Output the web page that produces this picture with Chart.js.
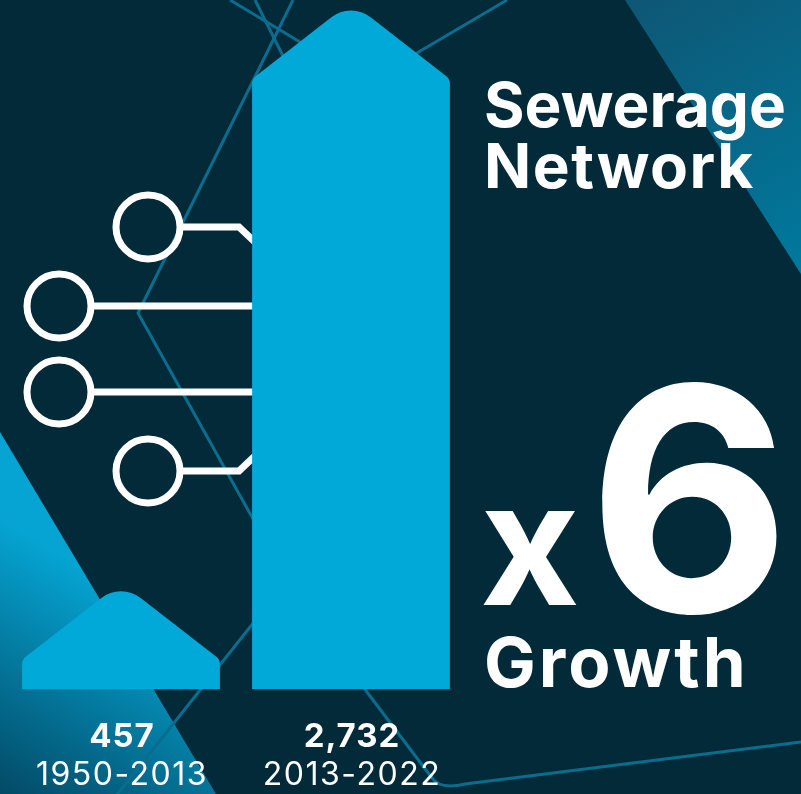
<!DOCTYPE html>
<html>
<head>
<meta charset="utf-8">
<title>Sewerage Network</title>
<script src="https://cdn.jsdelivr.net/npm/chart.js@4.4.1/dist/chart.umd.min.js"></script>
<style>
  html, body { margin: 0; padding: 0; background: #032a39; }
  canvas { display: block; }
</style>
</head>
<body>
<canvas id="barChart" width="801" height="794"></canvas>
<script>
// Dati
const periods = ['1950-2013', '2013-2022'];
const networkKm = [457, 2732];
const titleLines = ['Sewerage', 'Network'];
const growthFactor = '6';
const growthLabel = 'Growth';

const BG = '#032a39';
const BAR = '#00a9d7';
const DECOR = '#0b6d8e';
const FONT = 'Inter, "Noto Sans", sans-serif';
const AXIS_MIN = 40;

// Fons: trijstūri, līnijas un "shēma"
const backgroundPlugin = {
    id: 'background',
    beforeDraw(chart) {
        const ctx = chart.ctx;
        ctx.save();
        ctx.fillStyle = BG;
        ctx.fillRect(0, 0, chart.width, chart.height);

        // augšējais labais trijstūris
        let g = ctx.createLinearGradient(640, 0, 801, 270);
        g.addColorStop(0, '#0e5775');
        g.addColorStop(1, '#00799d');
        ctx.fillStyle = g;
        ctx.beginPath();
        ctx.moveTo(625, 0);
        ctx.lineTo(801, 0);
        ctx.lineTo(801, 274);
        ctx.closePath();
        ctx.fill();

        // apakšējais kreisais trijstūris
        g = ctx.createLinearGradient(120, 590, 0, 794);
        g.addColorStop(0, '#05a4d2');
        g.addColorStop(1, '#034a66');
        ctx.fillStyle = g;
        ctx.beginPath();
        ctx.moveTo(0, 432);
        ctx.lineTo(216, 794);
        ctx.lineTo(0, 794);
        ctx.closePath();
        ctx.fill();

        // plānās līnijas
        ctx.strokeStyle = DECOR;
        ctx.lineWidth = 3;
        ctx.lineJoin = 'round';
        const paths = [
            [[230, 0], [330, 60]],
            [[255, 0], [300, 90]],
            [[293, 0], [138, 313], [262, 535]],
            [[507, 0], [400, 63]],
            [[262, 612], [116, 796]],
        ];
        paths.forEach(p => {
            ctx.beginPath();
            ctx.moveTo(p[0][0], p[0][1]);
            for (let i = 1; i < p.length; i++) ctx.lineTo(p[i][0], p[i][1]);
            ctx.stroke();
        });
        ctx.beginPath();
        ctx.moveTo(320, 630);
        ctx.lineTo(432, 778);
        ctx.quadraticCurveTo(440, 790, 465, 784);
        ctx.lineTo(801, 742);
        ctx.stroke();

        // baltā shēma
        ctx.strokeStyle = '#ffffff';
        ctx.lineWidth = 7;
        ctx.lineJoin = 'miter';
        const circles = [[148, 227], [59, 306], [59, 392], [148, 471]];
        circles.forEach(c => {
            ctx.beginPath();
            ctx.arc(c[0], c[1], 32, 0, Math.PI * 2);
            ctx.stroke();
        });
        ctx.beginPath();
        ctx.moveTo(180, 227); ctx.lineTo(239, 227); ctx.lineTo(258, 245);
        ctx.moveTo(91, 306); ctx.lineTo(258, 306);
        ctx.moveTo(91, 392); ctx.lineTo(258, 392);
        ctx.moveTo(180, 471); ctx.lineTo(239, 471); ctx.lineTo(258, 453);
        ctx.stroke();
        ctx.restore();
    }
};

// Stabiņi ar "jumtu"
const housePlugin = {
    id: 'houseBars',
    afterDatasetsDraw(chart) {
        const ctx = chart.ctx;
        const meta = chart.getDatasetMeta(0);
        ctx.save();
        ctx.fillStyle = BAR;
        meta.data.forEach(bar => {
            const left = bar.x - bar.width / 2;
            const right = bar.x + bar.width / 2;
            const top = bar.y;
            const shoulder = top + 77;
            ctx.beginPath();
            ctx.moveTo(left, bar.base);
            ctx.arcTo(left, shoulder, bar.x, top, 10);
            ctx.arcTo(bar.x, top, right, shoulder, 32);
            ctx.arcTo(right, shoulder, right, bar.base, 10);
            ctx.lineTo(right, bar.base);
            ctx.closePath();
            ctx.fill();
        });
        ctx.restore();
    }
};

// Teksti
const textPlugin = {
    id: 'texts',
    afterDraw(chart) {
        const ctx = chart.ctx;
        const meta = chart.getDatasetMeta(0);
        ctx.save();
        ctx.fillStyle = '#ffffff';
        ctx.textBaseline = 'alphabetic';

        ctx.textAlign = 'center';
        meta.data.forEach((bar, i) => {
            ctx.letterSpacing = '1px';
            ctx.font = `700 33px ${FONT}`;
            ctx.fillText(networkKm[i].toLocaleString('en-US'), bar.x + 1, bar.base + 58);
            ctx.letterSpacing = '1.5px';
            ctx.font = `400 32px ${FONT}`;
            ctx.fillText(periods[i], bar.x + 1, bar.base + 96);
        });

        ctx.textAlign = 'left';
        ctx.letterSpacing = '0px';
        ctx.font = `700 62px ${FONT}`;
        ctx.fillText(titleLines[0], 484, 127);
        ctx.letterSpacing = '1.5px';
        ctx.fillText(titleLines[1], 484, 188);

        ctx.letterSpacing = '0px';
        ctx.font = `700 172px ${FONT}`;
        ctx.fillText('x', 480, 605);
        ctx.font = `700 312px ${FONT}`;
        ctx.fillText(growthFactor, 588, 612);

        ctx.letterSpacing = '3px';
        ctx.font = `700 69px ${FONT}`;
        ctx.fillText(growthLabel, 484, 687);
        ctx.restore();
    }
};

const barChartCtx = document.getElementById('barChart').getContext('2d');
const barChart = new Chart(barChartCtx, {
    type: 'bar',
    data: {
        labels: periods,
        datasets: [{
            label: 'Sewerage network',
            data: networkKm,
            base: AXIS_MIN,
            backgroundColor: 'rgba(0,0,0,0)',
            borderWidth: 0,
            categoryPercentage: 1,
            barPercentage: 0.86
        }]
    },
    options: {
        responsive: false,
        animation: false,
        layout: { padding: { left: 6, right: 335, top: 0, bottom: 105 } },
        scales: {
            x: { display: false },
            y: { display: false, min: AXIS_MIN, max: 2740 }
        },
        plugins: {
            legend: { display: false },
            tooltip: { enabled: false },
            title: { display: false }
        }
    },
    plugins: [backgroundPlugin, housePlugin, textPlugin]
});
</script>
</body>
</html>
